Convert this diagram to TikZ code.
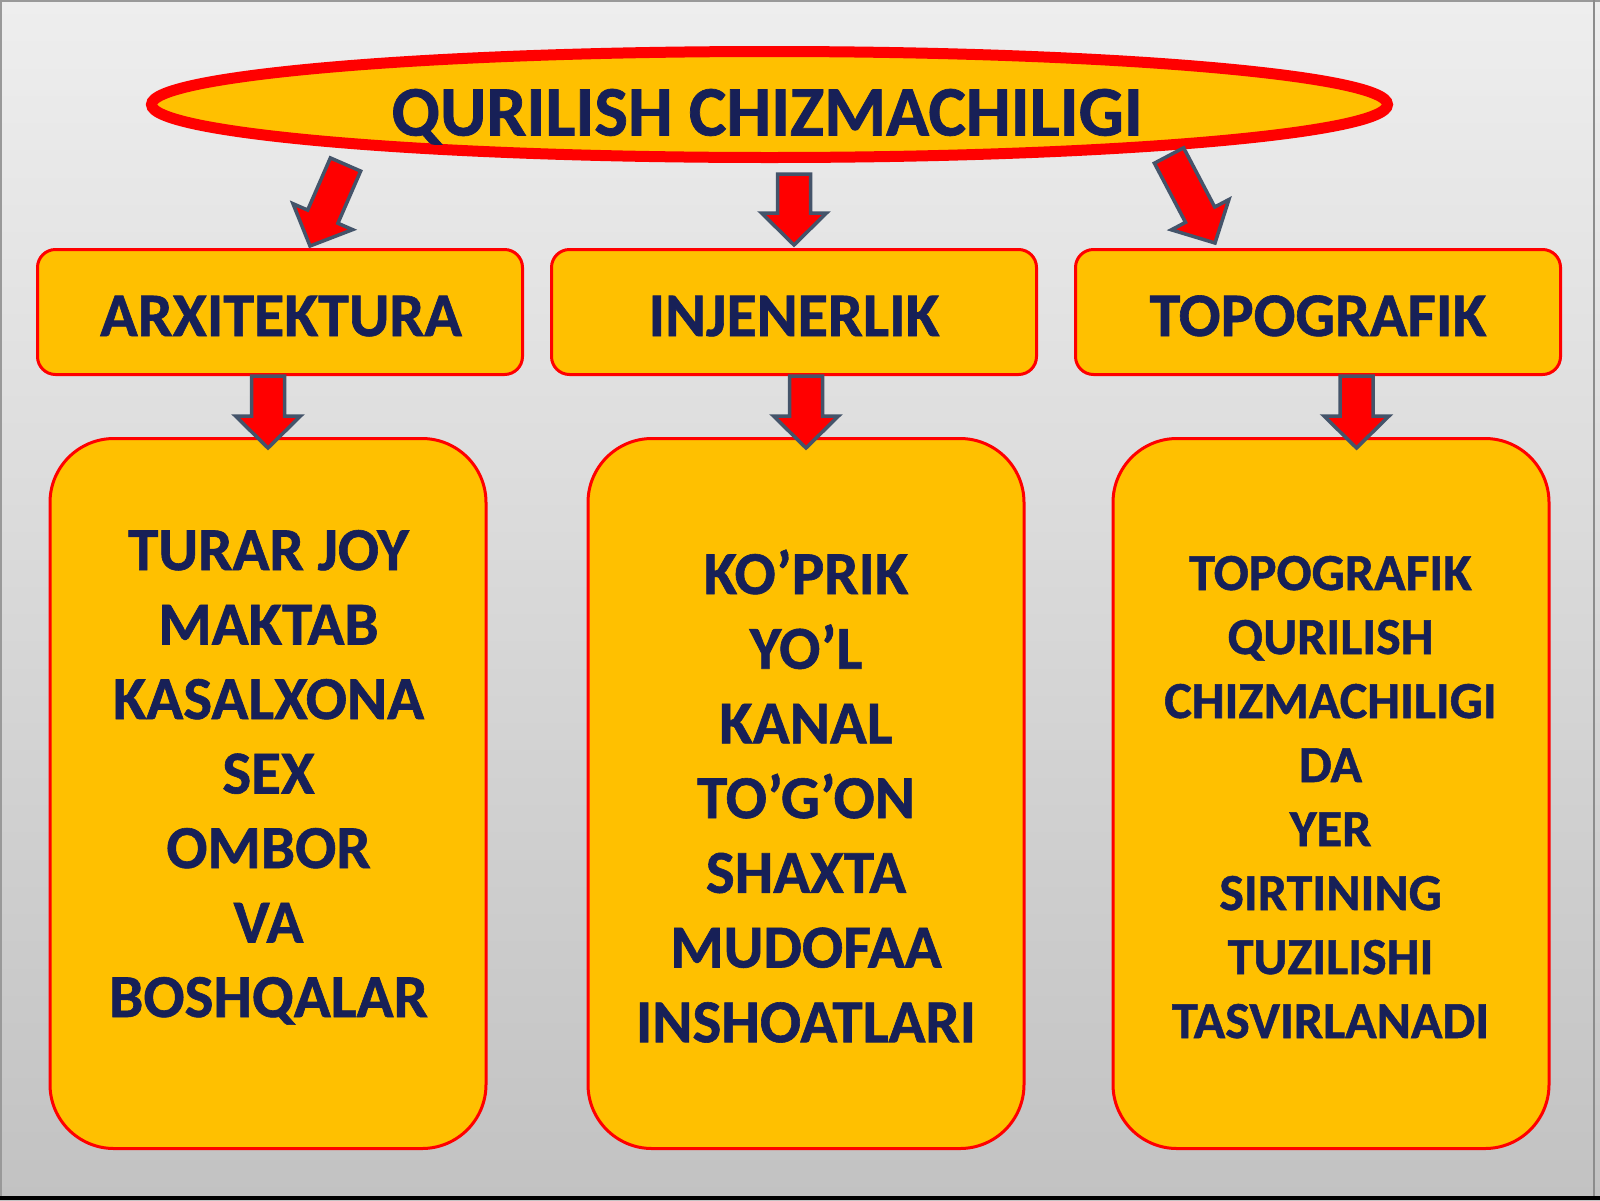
\documentclass[tikz,border=0pt]{standalone}
\usepackage{fontspec}
\setmainfont{Carlito}[BoldFeatures={FakeBold=1}]
\usetikzlibrary{shapes.geometric,calc}
\definecolor{gold}{HTML}{FFC000}
\definecolor{navy}{HTML}{172057}
\definecolor{slate}{HTML}{44546A}
\definecolor{bgtop}{HTML}{EEEEEE}
\definecolor{bgbot}{HTML}{C2C2C2}
\newcommand\blockarrow[3]{%
  \coordinate (#3h) at ($(#2)!32pt!(#1)$);
  \filldraw[blockarr] ($(#1)!16.5pt!90:(#2)$) -- ($(#3h)!16.5pt!90:(#2)$) -- ($(#3h)!32.5pt!90:(#2)$) -- (#2) -- ($(#3h)!32.5pt!-90:(#2)$) -- ($(#3h)!16.5pt!-90:(#2)$) -- ($(#1)!16.5pt!-90:(#2)$) -- cycle;}
\tikzset{
  topell/.style={ellipse, draw=red, line width=11pt, fill=gold, minimum width=1236pt, minimum height=106pt, inner sep=0pt},
  midbox/.style={rectangle, rounded corners=18pt, draw=red, line width=3pt, fill=gold, minimum width=485pt, minimum height=125pt, inner sep=0pt},
  botbox/.style={rectangle, rounded corners=64pt, draw=red, line width=3pt, fill=gold, minimum width=436pt, minimum height=710pt, inner sep=0pt},
  titletxt/.style={anchor=base, text=navy, inner sep=0pt, font=\fontsize{71}{85}\selectfont\bfseries},
  midtxt/.style={anchor=base, text=navy, inner sep=0pt, font=\fontsize{62}{74}\selectfont\bfseries},
  bigtxt/.style={anchor=base, text=navy, inner sep=0pt, font=\fontsize{61}{74}\selectfont\bfseries},
  smalltxt/.style={anchor=base, text=navy, inner sep=0pt, font=\fontsize{52}{63}\selectfont\bfseries},
  blockarr/.style={fill=red, draw=slate, line width=3.5pt, line join=miter},
}
\begin{document}
\begin{tikzpicture}[x=1pt,y=-1pt]
\useasboundingbox (0,0) rectangle (1600,1200);
% background
\shade[top color=bgtop, bottom color=bgbot] (0pt,0pt) rectangle (1600pt,-1200pt);
\draw[gray!80, line width=2pt] (0,1) -- (1600,1);
\draw[gray!80, line width=2pt] (1,0) -- (1,1200);
\draw[gray!90, line width=2pt] (1594,0) -- (1594,1200);
\fill[black] (0,1196) rectangle (1600,1200);
% top ellipse
\node[topell] (top) at (769.5,104.5) {};
\node[titletxt] (title) at (767,135.5) {QURILISH CHIZMACHILIGI};
% middle boxes
\node[midbox] (m1) at (280,312) {};
\node[midbox] (m2) at (794,312) {};
\node[midbox] (m3) at (1318,312) {};
\node[midtxt] (m1t) at (281,336) {ARXITEKTURA};
\node[midtxt] (m2t) at (794,336) {INJENERLIK};
\node[midtxt] (m3t) at (1318,336) {TOPOGRAFIK};
% bottom boxes
\node[botbox] (bot1) at (268,793.5) {};
\node[botbox] (bot2) at (806,793.5) {};
\node[botbox] (bot3) at (1331,793.5) {};
\foreach \t [count=\i] in {TURAR JOY, MAKTAB, KASALXONA, SEX, OMBOR, VA, BOSHQALAR}
  \node[bigtxt] (ta\i) at (268.5,{570+74.5*(\i-1)}) {\t};
\foreach \t [count=\i] in {KO’PRIK, YO’L, KANAL, TO’G’ON, SHAXTA, MUDOFAA, INSHOATLARI}
  \node[bigtxt] (tb\i) at (806,{594+74.7*(\i-1)}) {\t};
\foreach \t [count=\i] in {TOPOGRAFIK, QURILISH, CHIZMACHILIGI, DA, YER, SIRTINING, TUZILISHI, TASVIRLANADI}
  \node[smalltxt] (tc\i) at (1330.5,{590+64*(\i-1)}) {\t};
% arrows
\coordinate (a1s) at (345.5,164.5);
\coordinate (a1t) at ($(m1.north)+(30,-2)$);
\coordinate (a2s) at (794,174);
\coordinate (a2t) at ($(m2.north)+(0,-3)$);
\coordinate (a3s) at (1169,155.5);
\coordinate (a3t) at ($(m3.north)+(-103,-5)$);
\coordinate (a4s) at (m1.south -| bot1.north);
\coordinate (a4t) at ($(bot1.north)+(0,11)$);
\coordinate (a5s) at (m2.south -| bot2.north);
\coordinate (a5t) at ($(bot2.north)+(0,11)$);
\coordinate (a6s) at ($(m3.south)+(38.5,0)$);
\coordinate (a6t) at ($(bot3.north)+(25.5,11)$);
\blockarrow{a1s}{a1t}{a1}
\blockarrow{a2s}{a2t}{a2}
\blockarrow{a3s}{a3t}{a3}
\blockarrow{a4s}{a4t}{a4}
\blockarrow{a5s}{a5t}{a5}
\blockarrow{a6s}{a6t}{a6}
\end{tikzpicture}
\end{document}
